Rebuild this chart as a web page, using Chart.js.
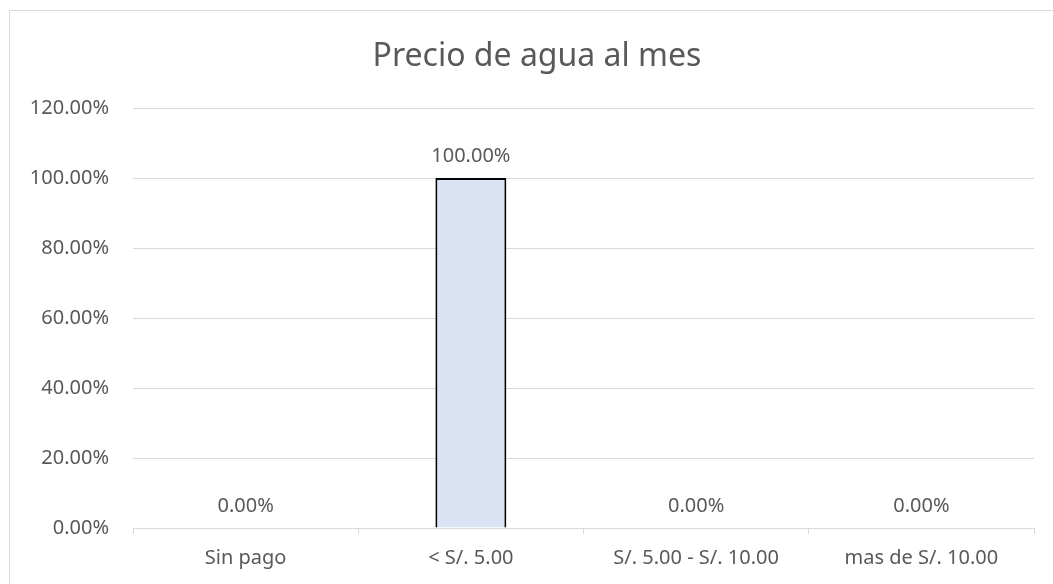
<!DOCTYPE html>
<html>
<head>
<meta charset="utf-8">
<script src="https://cdn.jsdelivr.net/npm/chart.js@4/dist/chart.umd.min.js"></script>
<style>
  html, body { margin: 0; padding: 0; background: #fff; }
  #wrap { width: 1053px; height: 584px; position: relative; }
</style>
</head>
<body>
<div id="wrap"><canvas id="chart" width="1053" height="584"></canvas></div>
<script>
// chart data
const chartTitle = 'Precio de agua al mes';
const categories = ['Sin pago', '< S/. 5.00', 'S/. 5.00 - S/. 10.00', 'mas de S/. 10.00'];
const percentValues = [0, 100, 0, 0];
const yTicks = [0, 20, 40, 60, 80, 100, 120];

const textGrey = '#595959';
const lineGrey = '#d9d9d9';
const fontFamily = "'Noto Sans', 'Open Sans', sans-serif";

const fmtPct = v => v.toFixed(2) + '%';

// outer frame + title, drawn like the Excel chart area
const framePlugin = {
    id: 'frame',
    beforeDraw(chart) {
        const ctx = chart.ctx;
        ctx.save();
        ctx.strokeStyle = lineGrey;
        ctx.lineWidth = 1;
        ctx.strokeRect(9.5, 10.5, 1100, 600);
        ctx.fillStyle = textGrey;
        ctx.font = '32px ' + fontFamily;
        ctx.textAlign = 'center';
        ctx.textBaseline = 'middle';
        ctx.fillText(chartTitle, 537, 57);
        ctx.restore();
    }
};

// value labels above each bar
const valueLabels = {
    id: 'valueLabels',
    afterDatasetsDraw(chart) {
        const ctx = chart.ctx;
        const meta = chart.getDatasetMeta(0);
        ctx.save();
        ctx.fillStyle = textGrey;
        ctx.font = '20px ' + fontFamily;
        ctx.textAlign = 'center';
        ctx.textBaseline = 'middle';
        meta.data.forEach((bar, i) => {
            ctx.fillText(fmtPct(percentValues[i]), bar.x, bar.y - 22);
        });
        ctx.restore();
    }
};

new Chart(document.getElementById('chart').getContext('2d'), {
    type: 'bar',
    data: {
        labels: categories,
        datasets: [{
            data: percentValues,
            backgroundColor: '#dae3f3',
            borderColor: '#000000',
            borderWidth: ctx => (ctx.raw > 0 ? 2 : 0),
            borderSkipped: 'bottom',
            barPercentage: 0.315,
            categoryPercentage: 1.0
        }]
    },
    options: {
        responsive: false,
        animation: false,
        devicePixelRatio: 1,
        layout: { padding: { top: 108, right: 19, bottom: 0, left: 0 } },
        plugins: {
            legend: { display: false },
            title: { display: false },
            tooltip: { enabled: false }
        },
        scales: {
            x: {
                offset: true,
                grid: {
                    offset: true,
                    drawOnChartArea: false,
                    drawTicks: true,
                    tickLength: 6,
                    color: lineGrey
                },
                border: { display: true, color: lineGrey, width: 1 },
                ticks: {
                    color: textGrey,
                    font: { family: fontFamily, size: 20 },
                    padding: 12,
                    maxRotation: 0,
                    autoSkip: false
                },
                afterFit(scale) { scale.height = 56; }
            },
            y: {
                min: 0,
                max: 120,
                afterBuildTicks(scale) {
                    scale.ticks = yTicks.map(v => ({ value: v }));
                },
                grid: { color: lineGrey, lineWidth: 1, drawTicks: false },
                border: { display: false },
                ticks: {
                    color: textGrey,
                    font: { family: fontFamily, size: 20 },
                    padding: 24,
                    callback: v => fmtPct(v)
                },
                afterFit(scale) { scale.width = 133; }
            }
        }
    },
    plugins: [framePlugin, valueLabels]
});
</script>
</body>
</html>
